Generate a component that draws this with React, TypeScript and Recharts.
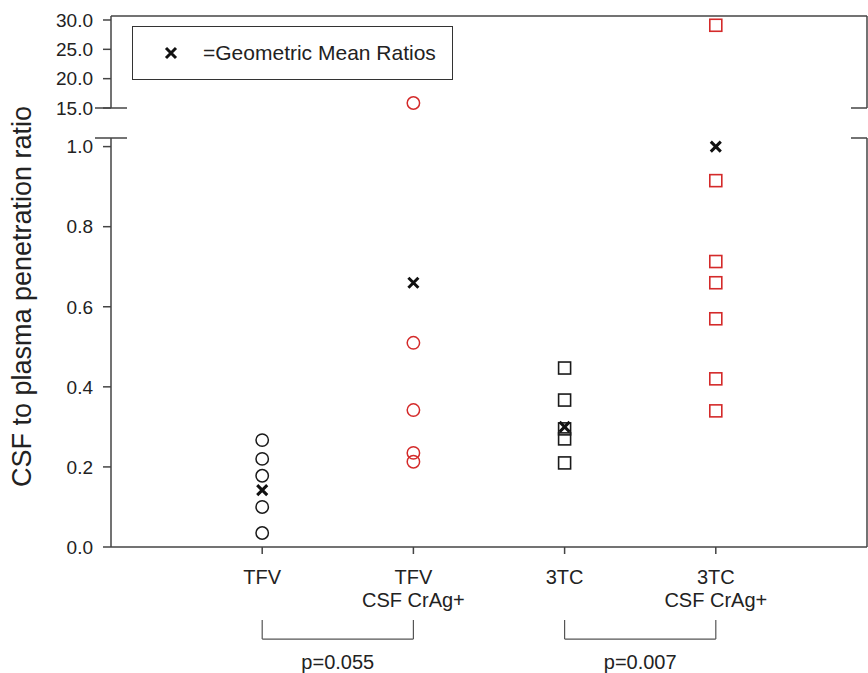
import {
  ScatterChart,
  Scatter,
  XAxis,
  YAxis,
  ReferenceLine,
  ReferenceDot,
  Legend,
} from 'recharts'

// groups on the x axis (1..4)
const categoryLines = [['TFV'], ['TFV', 'CSF CrAg+'], ['3TC'], ['3TC', 'CSF CrAg+']]
const categoryPos = [1, 2, 3, 4]

// CSF to plasma ratios
const tfvRatios = [0.267, 0.22, 0.178, 0.1, 0.035]
const tfvCragRatios = [15.85, 0.51, 0.342, 0.235, 0.213]
const tcRatios = [0.447, 0.367, 0.295, 0.27, 0.21]
const tcCragRatios = [29.1, 0.915, 0.713, 0.66, 0.57, 0.42, 0.34]
const geoMeans = [0.142, 0.66, 0.3, 1.0]

const lowerTicks = [0, 0.2, 0.4, 0.6, 0.8, 1.0]
const upperTicks = [15, 20, 25, 30]

const comparisons = [
  { from: 1, to: 2, label: 'p=0.055' },
  { from: 3, to: 4, label: 'p=0.007' },
]

const BREAK = 1.05
const LOWER_MAX = 1.0215
const UPPER_MIN = 15
const UPPER_MAX = 30.68
const X_MAX = 5

const BLACK = '#1a1a1a'
const RED = '#d42a2a'
const AXIS = '#444'
const FONT = '"Liberation Sans", Arial, sans-serif'

const toPoints = (values: number[], x: number, upper: boolean) =>
  values.filter((v) => (upper ? v > BREAK : v <= BREAK)).map((y) => ({ x, y }))

const meanPoints = geoMeans.map((y, i) => ({ x: categoryPos[i], y }))

const circleShape = (color: string) => (p: any) => (
  <circle cx={p.cx} cy={p.cy} r={6.2} fill="none" stroke={color} strokeWidth={1.5} />
)

const squareShape = (color: string) => (p: any) => (
  <rect x={p.cx - 6} y={p.cy - 6} width={12} height={12} fill="none" stroke={color} strokeWidth={1.6} />
)

const crossShape = (p: any) => (
  <path
    d={`M${p.cx - 5},${p.cy - 5}L${p.cx + 5},${p.cy + 5}M${p.cx + 5},${p.cy - 5}L${p.cx - 5},${p.cy + 5}`}
    stroke="#111"
    strokeWidth={3}
  />
)

const CategoryTick = (props: any) => {
  const { x, y, payload } = props
  const lines = categoryLines[categoryPos.indexOf(payload.value)] ?? []
  return (
    <text x={x} y={y} textAnchor="middle" fontSize={20} fill="#222">
      {lines.map((l, i) => (
        <tspan key={l} x={x} dy={i === 0 ? 28 : 23}>
          {l}
        </tspan>
      ))}
    </text>
  )
}

const AxisTitle = (props: any) => {
  const vb = props.viewBox
  const cx = vb.x + 22
  const cy = vb.y + vb.height / 2 - 46
  return (
    <text
      x={cx}
      y={cy}
      transform={`rotate(-90, ${cx}, ${cy})`}
      textAnchor="middle"
      dominantBaseline="central"
      fontSize={27}
      fill="#222"
    >
      CSF to plasma penetration ratio
    </text>
  )
}

const MeanLegend = () => (
  <div
    style={{
      width: 321,
      height: 54,
      boxSizing: 'border-box',
      border: '1.5px solid #333',
      background: '#fff',
      display: 'flex',
      alignItems: 'center',
      fontSize: 21,
      color: '#222',
    }}
  >
    <svg width={70} height={20}>
      <path d="M33,5L43,15M43,5L33,15" stroke="#111" strokeWidth={3} />
    </svg>
    <span>=Geometric Mean Ratios</span>
  </div>
)

const tickStyle = { fill: '#222', fontSize: 19 }
const frame = { stroke: AXIS, strokeWidth: 1.5 }

export default function App() {
  return (
    <div style={{ position: 'absolute', left: 0, top: 0, width: 868, height: 673, fontFamily: FONT, background: '#fff' }}>
      <div style={{ position: 'absolute', left: 0, top: 0 }}>
        <ScatterChart width={868} height={673} margin={{ top: 138, right: 1, bottom: 96, left: 0 }}>
          <XAxis
            type="number"
            dataKey="x"
            domain={[0, X_MAX]}
            ticks={categoryPos}
            tick={<CategoryTick />}
            tickSize={7}
            height={30}
            axisLine={frame}
            tickLine={frame}
          />
          <YAxis
            type="number"
            dataKey="y"
            domain={[0, LOWER_MAX]}
            ticks={lowerTicks}
            tickFormatter={(v: number) => v.toFixed(1)}
            tick={tickStyle}
            tickSize={8}
            tickMargin={10}
            width={111}
            axisLine={frame}
            tickLine={frame}
            label={{ content: <AxisTitle /> }}
          />
          <ReferenceLine x={X_MAX} {...frame} ifOverflow="visible" />
          <ReferenceLine segment={[{ x: -0.106, y: LOWER_MAX }, { x: 0.106, y: LOWER_MAX }]} {...frame} ifOverflow="visible" />
          <ReferenceLine segment={[{ x: X_MAX - 0.106, y: LOWER_MAX }, { x: X_MAX, y: LOWER_MAX }]} {...frame} ifOverflow="visible" />
          {comparisons.map((c) => (
            <ReferenceLine
              key={c.label + 'a'}
              segment={[{ x: c.from, y: -0.1825 }, { x: c.from, y: -0.23 }]}
              stroke="#555"
              strokeWidth={1.2}
              ifOverflow="visible"
            />
          ))}
          {comparisons.map((c) => (
            <ReferenceLine
              key={c.label + 'b'}
              segment={[{ x: c.to, y: -0.1825 }, { x: c.to, y: -0.23 }]}
              stroke="#555"
              strokeWidth={1.2}
              ifOverflow="visible"
            />
          ))}
          {comparisons.map((c) => (
            <ReferenceLine
              key={c.label + 'c'}
              segment={[{ x: c.from, y: -0.23 }, { x: c.to, y: -0.23 }]}
              stroke="#555"
              strokeWidth={1.2}
              ifOverflow="visible"
            />
          ))}
          {comparisons.map((c) => (
            <ReferenceDot
              key={c.label}
              x={(c.from + c.to) / 2}
              y={-0.2875}
              r={0}
              stroke="none"
              fill="none"
              ifOverflow="visible"
              label={{ value: c.label, position: 'center', fontSize: 20, fill: '#222' }}
            />
          ))}
          <Scatter data={toPoints(tfvRatios, 1, false)} shape={circleShape(BLACK)} isAnimationActive={false} />
          <Scatter data={toPoints(tfvCragRatios, 2, false)} shape={circleShape(RED)} isAnimationActive={false} />
          <Scatter data={toPoints(tcRatios, 3, false)} shape={squareShape(BLACK)} isAnimationActive={false} />
          <Scatter data={toPoints(tcCragRatios, 4, false)} shape={squareShape(RED)} isAnimationActive={false} />
          <Scatter data={meanPoints} shape={crossShape} isAnimationActive={false} />
        </ScatterChart>
      </div>
      <div style={{ position: 'absolute', left: 0, top: 0 }}>
        <ScatterChart width={868} height={120} margin={{ top: 16, right: 1, bottom: 12, left: 0 }}>
          <XAxis type="number" dataKey="x" domain={[0, X_MAX]} hide />
          <YAxis
            type="number"
            dataKey="y"
            domain={[UPPER_MIN, UPPER_MAX]}
            ticks={upperTicks}
            tickFormatter={(v: number) => v.toFixed(1)}
            tick={tickStyle}
            tickSize={8}
            tickMargin={10}
            width={111}
            axisLine={frame}
            tickLine={frame}
          />
          <ReferenceLine y={UPPER_MAX} {...frame} ifOverflow="visible" />
          <ReferenceLine x={X_MAX} {...frame} ifOverflow="visible" />
          <ReferenceLine segment={[{ x: -0.106, y: UPPER_MIN }, { x: 0.106, y: UPPER_MIN }]} {...frame} ifOverflow="visible" />
          <ReferenceLine segment={[{ x: X_MAX - 0.106, y: UPPER_MIN }, { x: X_MAX, y: UPPER_MIN }]} {...frame} ifOverflow="visible" />
          <Legend
            layout="horizontal"
            verticalAlign="middle"
            align="center"
            content={<MeanLegend />}
            wrapperStyle={{ left: 132, top: 26, width: 'auto', height: 'auto' }}
          />
          <Scatter data={toPoints(tfvCragRatios, 2, true)} shape={circleShape(RED)} isAnimationActive={false} />
          <Scatter data={toPoints(tcCragRatios, 4, true)} shape={squareShape(RED)} isAnimationActive={false} />
        </ScatterChart>
      </div>
    </div>
  )
}
